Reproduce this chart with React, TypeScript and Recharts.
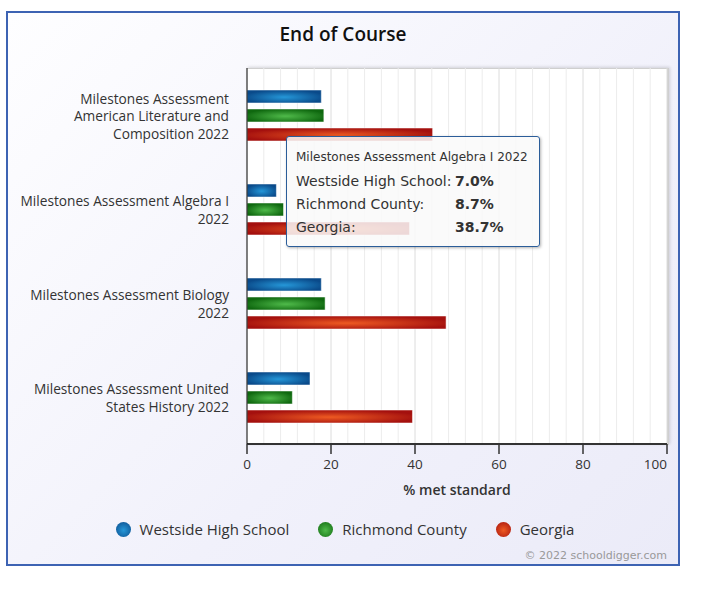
import React from "react";
import {
  BarChart,
  Bar,
  XAxis,
  YAxis,
  CartesianGrid,
  Tooltip,
} from "recharts";

const categories = [
  "Milestones Assessment American Literature and Composition 2022",
  "Milestones Assessment Algebra I 2022",
  "Milestones Assessment Biology 2022",
  "Milestones Assessment United States History 2022",
];
const tickLines = [
  ["Milestones Assessment", "American Literature and", "Composition 2022"],
  ["Milestones Assessment Algebra I", "2022"],
  ["Milestones Assessment Biology", "2022"],
  ["Milestones Assessment United", "States History 2022"],
];
const westside = [17.7, 7.0, 17.7, 15.0];
const richmond = [18.3, 8.7, 18.6, 10.8];
const georgia = [44.2, 38.7, 47.4, 39.4];
const xTicks = [0, 20, 40, 60, 80, 100];
const minorTicks = [4, 8, 12, 16, 24, 28, 32, 36, 44, 48, 52, 56, 64, 68, 72, 76, 84, 88, 92, 96];
const X_MAX = 100;

const series = [
  { key: "westside", name: "Westside High School", light: "#2597d8", dark: "#0a4a8a" },
  { key: "richmond", name: "Richmond County", light: "#4fba4a", dark: "#0f680f" },
  { key: "georgia", name: "Georgia", light: "#ee5a22", dark: "#a4100e" },
];

const data = categories.map((c, i) => ({
  name: c,
  westside: westside[i],
  richmond: richmond[i],
  georgia: georgia[i],
}));

const FONT = "'Open Sans', 'DejaVu Sans', sans-serif";

// minor grid every 4 units, mapped onto the plot's own offset box
const minorGrid = ({ xAxis, offset }: any) => {
  if (xAxis && typeof xAxis.scale === "function") return minorTicks.map((v) => xAxis.scale(v));
  const o = offset || {};
  return minorTicks.map((v) => o.left + (v / X_MAX) * o.width);
};

const CategoryTick = ({ x, y, payload, index }: any) => {
  const lines = tickLines[index] ?? [payload.value];
  const lh = 17.5;
  const start = y - ((lines.length - 1) * lh) / 2;
  return (
    <text x={x - 10} y={start} textAnchor="end" fill="#333" fontSize={13.7} fontFamily={FONT} dominantBaseline="central">
      {lines.map((l: string, i: number) => (
        <tspan key={i} x={x - 10} y={start + i * lh}>
          {l}
        </tspan>
      ))}
    </text>
  );
};

const ValueTick = ({ x, y, payload }: any) => {
  const last = payload.value === xTicks[xTicks.length - 1];
  return (
    <text
      x={last ? x + 1 : x}
      y={y + 13}
      textAnchor={last ? "end" : "middle"}
      fill="#333"
      fontSize={13.5}
      fontFamily={FONT}
    >
      {payload.value}
    </text>
  );
};

const TipContent = ({ payload, label }: any) => {
  if (!payload?.length) return null;
  return (
    <div
      style={{
        width: 254,
        height: 111,
        boxSizing: "border-box",
        background: "rgba(249,249,249,0.86)",
        border: "1px solid #2b5d99",
        borderRadius: 3,
        boxShadow: "1px 1px 3px rgba(0,0,0,0.3)",
        padding: "11px 9px",
        fontFamily: "'DejaVu Sans', sans-serif",
        color: "#333",
      }}
    >
      <div style={{ fontSize: 12, lineHeight: "18px", marginBottom: 4 }}>{label}</div>
      {payload.map((p: any) => (
        <div key={p.dataKey} style={{ display: "flex", fontSize: 14, lineHeight: "23px" }}>
          <span style={{ width: 159 }}>{p.name}:</span>
          <b>{p.value.toFixed(1)}%</b>
        </div>
      ))}
    </div>
  );
};

export default function App() {
  return (
    <div
      style={{
        position: "absolute",
        left: 6,
        top: 11,
        width: 674,
        height: 555,
        boxSizing: "border-box",
        border: "2px solid #3d63b3",
        background: "linear-gradient(135deg, #fefeff 0%, #f1f1fb 60%, #ebebf8 100%)",
        fontFamily: FONT,
      }}
    >
      <div
        style={{
          position: "absolute",
          left: 0,
          right: 0,
          top: 8,
          textAlign: "center",
          fontSize: 19,
          fontWeight: 600,
          color: "#111",
        }}
      >
        End of Course
      </div>
      {/* plot frame */}
      <div
        style={{
          position: "absolute",
          left: 239,
          top: 55,
          width: 420,
          height: 376,
          background: "#fff",
          borderTop: "1px solid #cfcfcf",
          borderRight: "2px solid #cfcfcf",
          boxShadow: "1px -1px 3px rgba(0,0,0,0.15)",
        }}
      />
      <div style={{ position: "absolute", left: 0, top: 0 }}>
        <BarChart
          width={670}
          height={551}
          data={data}
          layout="vertical"
          margin={{ top: 55, right: 11, left: 0, bottom: 90 }}
          barSize={13}
          barGap={6}
        >
          <defs>
            {series.map((s) => (
              <radialGradient key={s.key} id={`g-${s.key}`} cx="50%" cy="55%" r="55%">
                <stop offset="0%" stopColor={s.light} />
                <stop offset="100%" stopColor={s.dark} />
              </radialGradient>
            ))}
          </defs>
          <CartesianGrid
            horizontal={false}
            vertical
            stroke="#ececec"
            verticalCoordinatesGenerator={minorGrid}
          />
          <CartesianGrid horizontal={false} vertical stroke="#dcdcdc" />
          <XAxis
            type="number"
            domain={[0, X_MAX]}
            ticks={xTicks}
            height={30}
            tickSize={10}
            tick={<ValueTick />}
            axisLine={{ stroke: "#333", strokeWidth: 2 }}
            tickLine={{ stroke: "#333", strokeWidth: 1.5 }}
          />
          <YAxis
            type="category"
            dataKey="name"
            width={239}
            tick={<CategoryTick />}
            tickLine={false}
            axisLine={{ stroke: "#111", strokeWidth: 1 }}
            interval={0}
          />
          <Tooltip
            active
            defaultIndex={1}
            cursor={false}
            position={{ x: 278, y: 123 }}
            content={<TipContent />}
            isAnimationActive={false}
          />
          {series.map((s) => (
            <Bar
              key={s.key}
              dataKey={s.key}
              name={s.name}
              fill={`url(#g-${s.key})`}
              stroke="rgba(255,255,255,0.5)"
              strokeWidth={1}
              isAnimationActive={false}
              activeBar={false}
            />
          ))}
        </BarChart>
      </div>
      <div
        style={{
          position: "absolute",
          left: 239,
          width: 420,
          top: 467,
          textAlign: "center",
          fontSize: 14,
          fontWeight: 600,
          color: "#333",
        }}
      >
        % met standard
      </div>
      <div
        style={{
          position: "absolute",
          left: 0,
          right: 0,
          top: 506,
          paddingLeft: 4,
          display: "flex",
          justifyContent: "center",
          gap: 29,
          fontSize: 15,
          color: "#333",
        }}
      >
        {series.map((s) => (
          <div key={s.key} style={{ display: "flex", alignItems: "center", gap: 9 }}>
            <span
              style={{
                width: 15,
                height: 15,
                borderRadius: "50%",
                background: `radial-gradient(circle at 50% 55%, ${s.light}, ${s.dark})`,
                display: "inline-block",
              }}
            />
            <span>{s.name}</span>
          </div>
        ))}
      </div>
      <div
        style={{
          position: "absolute",
          right: 11,
          top: 536,
          fontSize: 11,
          color: "#999",
          fontFamily: "'DejaVu Sans', sans-serif",
        }}
      >
        © 2022 schooldigger.com
      </div>
    </div>
  );
}
